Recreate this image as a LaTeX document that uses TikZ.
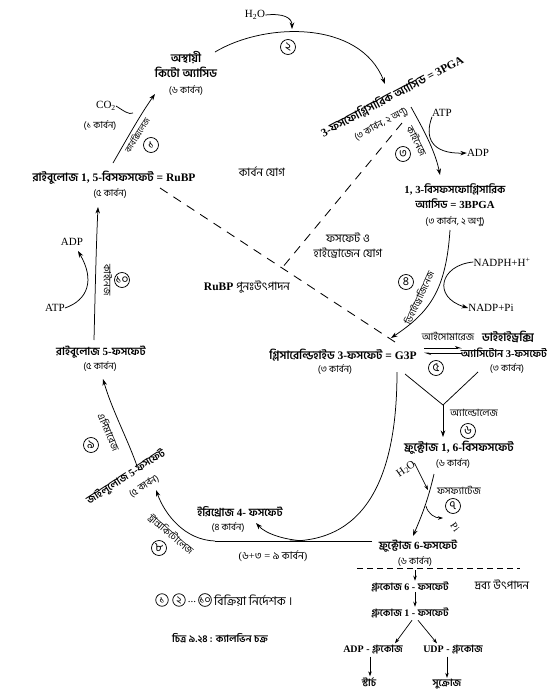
\documentclass[tikz,border=0pt]{standalone}
\usepackage{fontspec}
\setmainfont{Liberation Serif}
\newfontfamily\bn[Script=Bengali]{Hind Siliguri}
\usetikzlibrary{arrows.meta}
\newcommand\B[1]{{\bn #1}}
\begin{document}
\begin{tikzpicture}[x=1pt,y=-1pt,
  cmp/.style={font=\fontsize{11.5}{15.5}\selectfont\bfseries, align=center, inner sep=0pt},
  cmps/.style={font=\fontsize{10}{12}\selectfont\bfseries, align=center, inner sep=0pt},
  cmpm/.style={font=\fontsize{11.5}{15}\selectfont, align=center, inner sep=0pt},
  sub/.style={font=\fontsize{9.5}{10}\selectfont, inner sep=0pt},
  enz/.style={font=\fontsize{10}{10}\selectfont, inner sep=0pt},
  lat/.style={font=\fontsize{11}{12}\selectfont, inner sep=0pt},
  num/.style={draw, circle, line width=0.75pt, minimum size=15pt, inner sep=0pt, font=\bn\fontsize{12}{12}\selectfont},
  lnum/.style={draw, circle, line width=0.75pt, minimum size=12.5pt, inner sep=0pt, font=\bn\fontsize{10.5}{10.5}\selectfont},
  ln/.style={line width=0.75pt},
  arr/.style={line width=0.75pt, -{Stealth[length=6.5pt,width=4.5pt]}},
  sarr/.style={line width=0.7pt, -{Stealth[length=5pt,width=3.5pt]}},
  dsh/.style={line width=0.85pt, dash pattern=on 9pt off 7pt},
  bdsh/.style={line width=0.75pt, dash pattern=on 6pt off 4pt}]
\useasboundingbox[fill=white] (0,0) rectangle (549,694);

% ---------- texts ----------
\node[lat] (h2o) at (255,15) {H\textsubscript{2}O};
\node[cmp] (keto) at (186,73) {\B{অস্থায়ী}\\\B{কিটো অ্যাসিড}\\{\mdseries\fontsize{9.5}{10}\selectfont\B{(৬ কার্বন)}}};
\node[lat] (co2) at (106,106) {CO\textsubscript{2}};
\node[sub] (co2c) at (100,125) {\B{(১ কার্বন)}};
\node[cmp] (rubp) at (114,178) {\B{রাইবুলোজ} 1, 5-\B{বিসফসফেট} = RuBP};
\node[sub] (rubpc) at (110,193) {\B{(৫ কার্বন)}};
\node[cmp, rotate=28] (pga) at (392,96) {3-\B{ফসফোগ্লিসারিক অ্যাসিড} = 3PGA};
\node[sub, rotate=28] (pgac) at (381,124) {\B{(৩ কার্বন, ২ অণু)}};
\node[lat] (atp1) at (442,113) {ATP};
\node[lat] (adp1) at (478,153) {ADP};
\node[cmp, font=\fontsize{10.8}{15.5}\selectfont\bfseries] (bpga) at (455,205) {1, 3-\B{বিসফসফোগ্লিসারিক}\\\B{অ্যাসিড} = 3BPGA\\{\mdseries\fontsize{9.5}{10}\selectfont\B{(৩ কার্বন, ২ অণু)}}};
\node[lat] (nadph) at (502,262) {NADPH+H\textsuperscript{+}};
\node[lat] (nadp) at (491,308) {NADP+Pi};
\node[cmp] (g3p) at (343,355) {\B{গ্লিসারেল্ডিহাইড} 3-\B{ফসফেট} = G3P};
\node[sub] (g3pc) at (335,369) {\B{(৩ কার্বন)}};
\node[enz] (iso) at (448,336) {\B{আইসোমারেজ}};
\node[cmp] (dhap1) at (508,337) {\B{ডাইহাইড্রক্সি}};
\node[cmp, font=\fontsize{10.5}{12}\selectfont\bfseries] (dhap) at (504,353) {\B{অ্যাসিটোন} 3-\B{ফসফেট}};
\node[sub] (dhapc) at (507,368) {\B{(৩ কার্বন)}};
\node[enz] (ald) at (474,413) {\B{অ্যাল্ডোলেজ}};
\node[cmp] (fbp) at (459,448) {\B{ফ্রুক্টোজ} 1, 6-\B{বিসফসফেট}};
\node[sub] (fbpc) at (453,463) {\B{(৬ কার্বন)}};
\node[lat, rotate=35] (h2ob) at (406,469) {H\textsubscript{2}O};
\node[enz] (phos) at (459,490) {\B{ফসফ্যাটেজ}};
\node[lat, font=\fontsize{10}{10}\selectfont, rotate=-55] (pi) at (455,527) {Pi};
\node[cmp, font=\fontsize{11}{12}\selectfont\bfseries] (f6p) at (418,546) {\B{ফ্রুক্টোজ} 6-\B{ফসফেট}};
\node[sub] (f6pc) at (415,561) {\B{(৬ কার্বন)}};
\node[sub, font=\fontsize{10.5}{11}\selectfont] (sum) at (273,556) {(\B{৬}+\B{৩} = \B{৯ কার্বন})};
\node[cmp, font=\fontsize{11}{12}\selectfont\bfseries] (ery) at (240,512) {\B{ইরিথ্রোজ} 4- \B{ফসফেট}};
\node[sub] (eryc) at (228,527) {\B{(৪ কার্বন)}};
\node[cmp, font=\fontsize{10.5}{12}\selectfont\bfseries, rotate=33] (xyl) at (126,477) {\B{জাইলুলোজ} 5-\B{ফসফেট}};
\node[sub, rotate=33] (xylc) at (144,486) {\B{(৫ কার্বন)}};
\node[cmp, font=\fontsize{11}{12}\selectfont\bfseries] (ru5p) at (101,352) {\B{রাইবুলোজ} 5-\B{ফসফেট}};
\node[sub] (ru5pc) at (100,366) {\B{(৫ কার্বন)}};
\node[lat] (atp2) at (55,308) {ATP};
\node[lat] (adp2) at (72,242) {ADP};
\node[cmpm] (cadd) at (262,172) {\B{কার্বন যোগ}};
\node[cmpm] (padd) at (348,245.5) {\B{ফসফেট ও}\\\B{হাইড্রোজেন যোগ}};
\node[cmp] (regen) at (247,287) {RuBP {\mdseries\B{পুনঃউৎপাদন}}};

% enzyme labels on arrows
\node[enz, font=\fontsize{8.5}{9}\selectfont, rotate=58] (e1) at (137,135) {\B{কার্বক্সিলেজ}};
\node[enz, rotate=-63] (e3) at (417,141) {\B{কাইনেজ}};
\node[enz, font=\fontsize{9.5}{10}\selectfont, rotate=65] (e4) at (419,298) {\B{ডিহাইড্রোজিনেজ}};
\node[enz, rotate=-40] (e8) at (171,534) {\B{ট্রান্সকিটোলেজ}};
\node[enz, rotate=-66] (e9) at (109,432) {\B{এপিমারেজ}};
\node[enz, rotate=-90] (e10) at (108,280) {\B{কাইনেজ}};

% step numbers
\node[num] (n1) at (151,145) {১};
\node[num] (n2) at (288,47) {২};
\node[num] (n3) at (403,154) {৩};
\node[num] (n4) at (406,282) {৪};
\node[num] (n5) at (436,368) {৫};
\node[num] (n6) at (468,431) {৬};
\node[num] (n7) at (453,506) {৭};
\node[num] (n8) at (159,548) {৮};
\node[num] (n9) at (91,445) {৯};
\node[num] (n10) at (122,280) {১০};

% product formation
\node[cmps] (g6p) at (410,587) {\B{গ্লুকোজ} 6 - \B{ফসফেট}};
\node[cmpm, font=\fontsize{11.5}{12}\selectfont] (prod) at (502,585) {\B{দ্রব্য উৎপাদন}};
\node[cmps] (g1p) at (410,613) {\B{গ্লুকোজ} 1 - \B{ফসফেট}};
\node[cmps] (adpg) at (373,650) {ADP - \B{গ্লুকোজ}};
\node[cmps] (udpg) at (453,650) {UDP - \B{গ্লুকোজ}};
\node[cmps] (starch) at (369,682) {\B{স্টার্চ}};
\node[cmps] (sucr) at (447,684) {\B{সুক্রোজ}};

% legend and caption
\node[lnum] (l1) at (162,600) {১};
\node[lnum] (l2) at (179,600) {২};
\node[lat] (ldots) at (192,602) {...};
\node[lnum] (l10) at (205,600) {১০};
\node[cmpm, font=\fontsize{12}{12}\selectfont, anchor=west] (ltext) at (214,601) {\B{বিক্রিয়া নির্দেশক ।}};
\node[cmp, font=\fontsize{10}{12}\selectfont\bfseries] (cap) at (220,638) {\B{চিত্র ৯.২৪ : ক্যালভিন চক্র}};

% ---------- coordinates ----------
\coordinate (a1s) at (113,163);
\coordinate (a1e) at (155,94);
\coordinate (co2j) at (133,113);
\coordinate (a2s) at (215,52);
\coordinate (a2e) at (385,84);
\coordinate (h2oj) at (292,29);
\coordinate (a3s) at (411,107);
\coordinate (a3e) at (440,175);
\coordinate (a4s) at (450,230);
\coordinate (a4e) at (391,338);
\coordinate (eqa) at (424,348);
\coordinate (eqb) at (462,348);
\coordinate (eqc) at (462,353);
\coordinate (eqd) at (424,353);
\coordinate (vl) at (405,374);
\coordinate (vv) at (443,405);
\coordinate (vr) at (478,372);
\coordinate (a6e) at (443,437);
\coordinate (a7s) at (434,474);
\coordinate (a7e) at (413,536);
\coordinate (pij) at (426,506);
\coordinate (pie) at (443,518);
\coordinate (h2obj) at (428,490);
\coordinate (us) at (397,372);
\coordinate (ue) at (290,541);
\coordinate (hr) at (372,541);
\coordinate (hl) at (215,541);
\coordinate (hb) at (305,541);
\coordinate (a8e) at (156,490);
\coordinate (erye) at (256,523);
\coordinate (a9s) at (137,466);
\coordinate (a9e) at (103,379);
\coordinate (a10s) at (94,340);
\coordinate (a10e) at (98,207);
\coordinate (adp2e) at (78,251);
\coordinate (d1s) at (160,188);
\coordinate (d1e) at (395,342);
\coordinate (d2s) at (402,123);
\coordinate (d2e) at (282,268);
\coordinate (bds) at (357,568);
\coordinate (bde) at (520,568);
\coordinate (g6a) at (415,570);

% ---------- connectors ----------
\draw[arr] (a1s) .. controls (124,144) and (140,115) .. (a1e);
\draw[ln] (co2.east) .. controls (124,111) and (129,115) .. (co2j);
\draw[arr] (a2s) .. controls (265,22) and (360,20) .. (a2e);
\draw[arr] (h2o.east) .. controls (284,13) and (292,18) .. (h2oj);
\draw[arr] (a3s) .. controls (422,127) and (435,150) .. (a3e);
\draw[arr] (atp1.south west) .. controls (424,138) and (432,154) .. (adp1.west);
\draw[arr] (a4s) .. controls (446,290) and (430,312) .. (a4e);
\draw[arr] (nadph.west) .. controls (440,265) and (432,297) .. (nadp.west);
\draw[line width=0.8pt, -{Stealth[harpoon,length=6pt,width=4pt]}] (eqa) -- (eqb);
\draw[line width=0.8pt, -{Stealth[harpoon,length=6pt,width=4pt]}] (eqc) -- (eqd);
\draw[ln] (vl) -- (vv) -- (vr);
\draw[arr] (vv) -- (a6e);
\draw[arr] (a7s) .. controls (428,500) and (422,515) .. (a7e);
\draw[sarr] (h2ob.east) -- (h2obj);
\draw[sarr] (pij) .. controls (428,514) and (435,518) .. (pie);
\draw[ln] (us) .. controls (397,470) and (370,541) .. (ue);
\draw[ln] (hr) -- (hl);
\draw[arr] (hl) .. controls (185,540) and (165,515) .. (a8e);
\draw[arr] (hb) .. controls (285,540) and (266,534) .. (erye);
\draw[arr] (a9s) .. controls (128,440) and (112,410) .. (a9e);
\draw[arr] (a10s) .. controls (95,300) and (96,250) .. (a10e);
\draw[arr] (atp2.east) .. controls (88,300) and (95,280) .. (adp2e);
\draw[dsh] (d1s) -- (d1e);
\draw[dsh] (d2s) -- (d2e);
\draw[bdsh] (bds) -- (bde);
\draw[sarr] (g6a) -- ([xshift=5pt,yshift=1pt]g6p.north);
\draw[sarr] ([xshift=5pt]g6p.south) -- ([xshift=5pt,yshift=1pt]g1p.north);
\draw[sarr] ([xshift=2pt,yshift=-2pt]g1p.south) -- ([xshift=22pt,yshift=2pt]adpg.north);
\draw[sarr] ([xshift=8pt,yshift=-2pt]g1p.south) -- ([xshift=-16pt,yshift=2pt]udpg.north);
\draw[sarr] ([xshift=-3pt,yshift=-2pt]adpg.south) -- ([xshift=1pt,yshift=1pt]starch.north);
\draw[sarr] ([xshift=-6pt,yshift=-2pt]udpg.south) -- ([yshift=1pt]sucr.north);
\end{tikzpicture}
\end{document}
